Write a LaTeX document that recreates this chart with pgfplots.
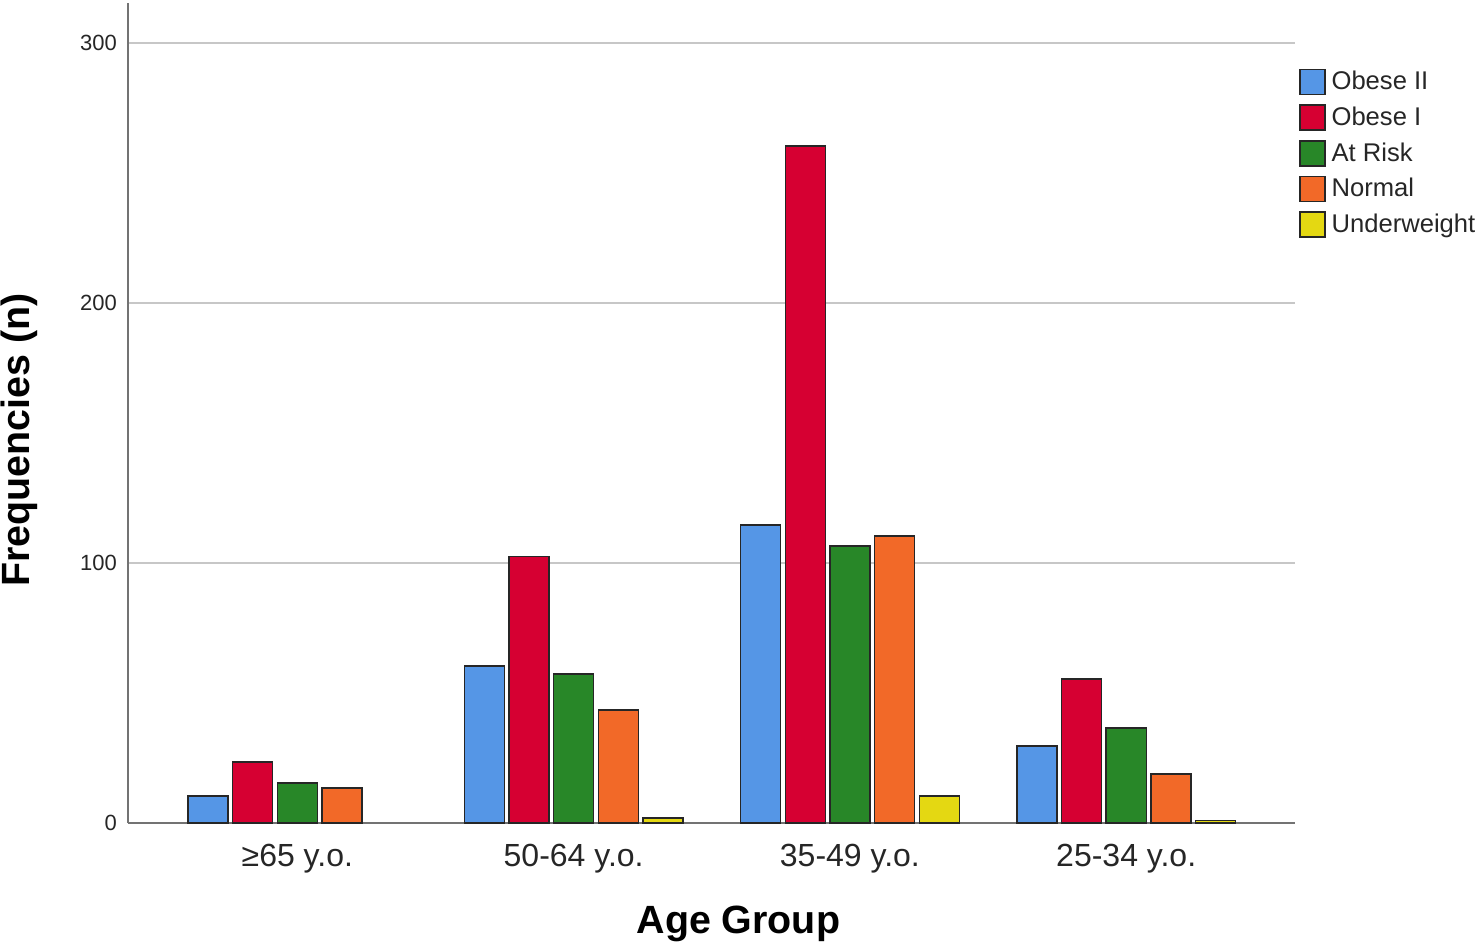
\documentclass[border=0pt]{standalone}
\usepackage{fontspec}
\setmainfont{Liberation Sans}
\usepackage{pgfplots}
\pgfplotsset{compat=1.18}

\definecolor{obeseII}{RGB}{85,150,230}
\definecolor{obeseI}{RGB}{214,0,50}
\definecolor{atrisk}{RGB}{40,135,40}
\definecolor{normal}{RGB}{242,105,40}
\definecolor{under}{RGB}{228,216,18}

\begin{document}
\begin{tikzpicture}
\useasboundingbox (-64pt,-60.5pt) rectangle (674.5pt,411.5pt);
\begin{axis}[
    width=583.5pt, height=410pt, scale only axis,
    at={(0,0)}, anchor=south west,
    ybar, bar width=0.145,
    xmin=-0.613, xmax=3.611,
    ymin=0, ymax=315.4,
    axis lines*=left,
    axis line style={draw=black!55, line width=1pt},
    xtick={0,1,2,3},
    xticklabels={≥65 y.o., 50-64 y.o., 35-49 y.o., 25-34 y.o.},
    ytick={0,100,200,300},
    major tick length=0pt,
    ymajorgrids,
    grid style={draw=black!22, line width=1pt},
    /pgf/number format/assume math mode=true,
    xticklabel style={font=\fontsize{16}{18}\selectfont, text=black!85, yshift=-7pt},
    yticklabel style={font=\fontsize{11}{13}\selectfont, text=black!85, xshift=-2pt},
    xlabel={Age Group},
    ylabel={Frequencies (n)},
    xlabel style={font=\fontsize{19.7}{22}\selectfont\bfseries, at={(axis description cs:0.523,-0.123)}, anchor=center},
    ylabel style={font=\fontsize{19.7}{22}\selectfont\bfseries, at={(axis description cs:-0.0935,0.467)}, anchor=center},
    legend style={draw=none, fill=none, at={(axis description cs:0.998,0.925)}, anchor=north west,
        font=\fontsize{12.8}{15}\selectfont, text=black!85, row sep=4.5pt,
        nodes={inner sep=1pt}},
    legend cell align=left,
    legend image code/.code={\draw[#1, line width=0.8pt] (0pt,-6.25pt) rectangle (12.5pt,6.25pt); \path (14.5pt,0pt);},
    every axis plot/.append style={draw=black!85, line width=0.7pt},
]
\addplot[fill=obeseII, bar shift=-0.3234] coordinates {(0,10.4) (1,60.4) (2,114.6) (3,29.6)};
\addplot[fill=obeseI, bar shift=-0.1617] coordinates {(0,23.5) (1,102.5) (2,260.4) (3,55.4)};
\addplot[fill=atrisk, bar shift=0] coordinates {(0,15.4) (1,57.3) (2,106.5) (3,36.5)};
\addplot[fill=normal, bar shift=0.1617] coordinates {(0,13.5) (1,43.5) (2,110.4) (3,18.8)};
\addplot[fill=under, bar shift=0.3234] coordinates {(1,2) (2,10.4) (3,1)};
\legend{Obese II, Obese I, At Risk, Normal, Underweight}
\end{axis}
\end{tikzpicture}
\end{document}
